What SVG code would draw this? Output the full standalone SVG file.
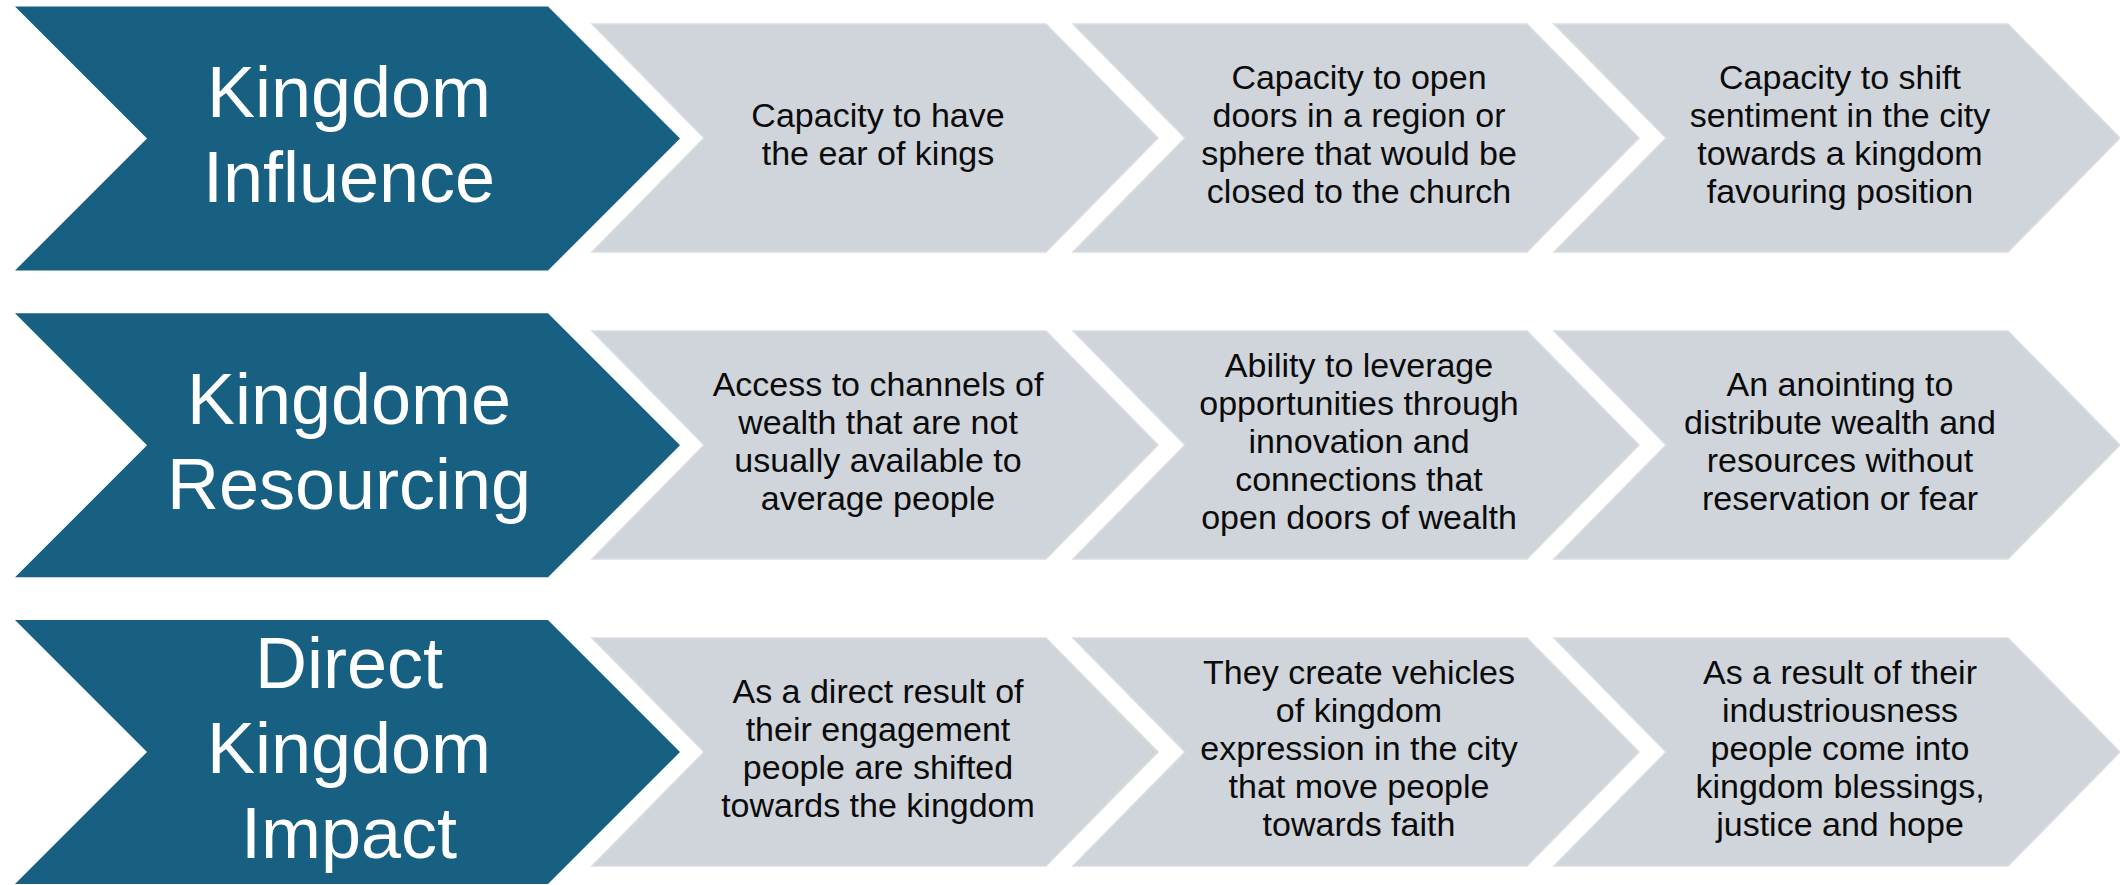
<svg xmlns="http://www.w3.org/2000/svg" xmlns:xlink="http://www.w3.org/1999/xlink" width="2120" height="885" viewBox="0 0 2120 885">
<style>
.blue{fill:#176082;}
.grey{fill:#D0D5DB;stroke:#DADDE1;stroke-width:1.5;}
.ht{font-family:"Liberation Sans",Arial,sans-serif;font-size:72px;fill:#FFFFFF;text-anchor:middle;}
.bt{font-family:"Liberation Sans",Arial,sans-serif;font-size:34px;fill:#0B0B0B;text-anchor:middle;}
</style>
<defs>
<path id="bchev" d="M0,0 H533 L665,132 L533,264 H0 L132,132 Z"/>
<path id="gchev" d="M0,0 H454 L566,114 L454,228 H0 L112,114 Z"/>
</defs>
<rect width="2120" height="885" fill="#FFFFFF"/>

<g id="row1-head">
<use xlink:href="#bchev" class="blue" transform="translate(15,6.5)"/>
<text class="ht" x="349"><tspan x="349" y="117">Kingdom</tspan><tspan x="349" y="202">Influence</tspan></text>
</g>
<g id="row1-step1">
<use xlink:href="#gchev" class="grey" transform="translate(592,24)"/>
<text class="bt"><tspan x="878" y="127">Capacity to have</tspan><tspan x="878" y="165">the ear of kings</tspan></text>
</g>
<g id="row1-step2">
<use xlink:href="#gchev" class="grey" transform="translate(1073,24)"/>
<text class="bt"><tspan x="1359" y="89">Capacity to open</tspan><tspan x="1359" y="127">doors in a region or</tspan><tspan x="1359" y="165">sphere that would be</tspan><tspan x="1359" y="203">closed to the church</tspan></text>
</g>
<g id="row1-step3">
<use xlink:href="#gchev" class="grey" transform="translate(1554,24)"/>
<text class="bt"><tspan x="1840" y="89">Capacity to shift</tspan><tspan x="1840" y="127">sentiment in the city</tspan><tspan x="1840" y="165">towards a kingdom</tspan><tspan x="1840" y="203">favouring position</tspan></text>
</g>

<g id="row2-head">
<use xlink:href="#bchev" class="blue" transform="translate(15,313.3)"/>
<text class="ht"><tspan x="349" y="424">Kingdome</tspan><tspan x="349" y="509">Resourcing</tspan></text>
</g>
<g id="row2-step1">
<use xlink:href="#gchev" class="grey" transform="translate(592,331)"/>
<text class="bt"><tspan x="878" y="396">Access to channels of</tspan><tspan x="878" y="434">wealth that are not</tspan><tspan x="878" y="472">usually available to</tspan><tspan x="878" y="510">average people</tspan></text>
</g>
<g id="row2-step2">
<use xlink:href="#gchev" class="grey" transform="translate(1073,331)"/>
<text class="bt"><tspan x="1359" y="377">Ability to leverage</tspan><tspan x="1359" y="415">opportunities through</tspan><tspan x="1359" y="453">innovation and</tspan><tspan x="1359" y="491">connections that</tspan><tspan x="1359" y="529">open doors of wealth</tspan></text>
</g>
<g id="row2-step3">
<use xlink:href="#gchev" class="grey" transform="translate(1554,331)"/>
<text class="bt"><tspan x="1840" y="396">An anointing to</tspan><tspan x="1840" y="434">distribute wealth and</tspan><tspan x="1840" y="472">resources without</tspan><tspan x="1840" y="510">reservation or fear</tspan></text>
</g>

<g id="row3-head">
<use xlink:href="#bchev" class="blue" transform="translate(15,620)"/>
<text class="ht"><tspan x="349" y="688">Direct</tspan><tspan x="349" y="773">Kingdom</tspan><tspan x="349" y="858">Impact</tspan></text>
</g>
<g id="row3-step1">
<use xlink:href="#gchev" class="grey" transform="translate(592,638)"/>
<text class="bt"><tspan x="878" y="703">As a direct result of</tspan><tspan x="878" y="741">their engagement</tspan><tspan x="878" y="779">people are shifted</tspan><tspan x="878" y="817">towards the kingdom</tspan></text>
</g>
<g id="row3-step2">
<use xlink:href="#gchev" class="grey" transform="translate(1073,638)"/>
<text class="bt"><tspan x="1359" y="684">They create vehicles</tspan><tspan x="1359" y="722">of kingdom</tspan><tspan x="1359" y="760">expression in the city</tspan><tspan x="1359" y="798">that move people</tspan><tspan x="1359" y="836">towards faith</tspan></text>
</g>
<g id="row3-step3">
<use xlink:href="#gchev" class="grey" transform="translate(1554,638)"/>
<text class="bt"><tspan x="1840" y="684">As a result of their</tspan><tspan x="1840" y="722">industriousness</tspan><tspan x="1840" y="760">people come into</tspan><tspan x="1840" y="798">kingdom blessings,</tspan><tspan x="1840" y="836">justice and hope</tspan></text>
</g>
</svg>
